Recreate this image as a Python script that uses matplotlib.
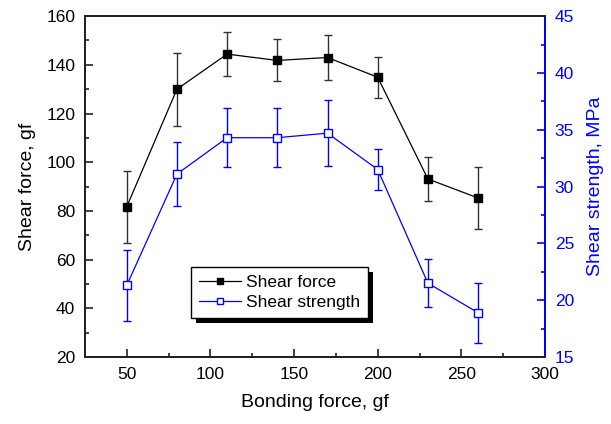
"""
Shear force and shear strength versus bonding force
"""

import matplotlib.pyplot as plt
from matplotlib.lines import Line2D
from matplotlib.patches import Rectangle
from matplotlib.ticker import MultipleLocator

plt.rcParams['font.family'] = ['Liberation Sans', 'DejaVu Sans']

bonding_force = [50, 80, 110, 140, 170, 200, 230, 260]
shear_force = [81.7, 130.0, 144.4, 141.8, 143.0, 134.9, 93.1, 85.3]
shear_force_err = [14.7, 15.0, 9.1, 8.6, 9.3, 8.4, 8.9, 12.6]
shear_strength = [21.3, 31.1, 34.3, 34.3, 34.7, 31.5, 21.5, 18.9]
shear_strength_err = [3.1, 2.85, 2.6, 2.6, 2.9, 1.8, 2.1, 2.65]

fig = plt.figure(figsize=(6.11, 4.24), dpi=100)
ax = fig.add_axes([0.139, 0.158, 0.753, 0.804])
ax2 = ax.twinx()

# Shear force (left axis)
ax.errorbar(bonding_force, shear_force, yerr=shear_force_err,
            color='black', ecolor='#333333', elinewidth=1, capsize=3,
            lw=0.9, marker='s', ms=6, mfc='black', mec='black')

# Shear strength (right axis)
ax2.errorbar(bonding_force, shear_strength, yerr=shear_strength_err,
             color='blue', ecolor='blue', elinewidth=1, capsize=3,
             lw=0.9, marker='s', ms=5.5, mfc='white', mec='blue', mew=1)

ax.set_xlim(25, 300)
ax.set_ylim(20, 160)
ax2.set_ylim(15, 45)

ax.xaxis.set_major_locator(MultipleLocator(50))
ax.xaxis.set_minor_locator(MultipleLocator(25))
ax.yaxis.set_major_locator(MultipleLocator(20))
ax.yaxis.set_minor_locator(MultipleLocator(10))
ax2.yaxis.set_major_locator(MultipleLocator(5))
ax2.yaxis.set_minor_locator(MultipleLocator(2.5))

for a in (ax, ax2):
    for s in a.spines.values():
        s.set_linewidth(1.4)
        s.set_color('#222222')
ax2.spines['right'].set_color('blue')

ax.tick_params(which='both', direction='in', labelsize=12.5, top=False,
               width=1.2, color='#222222', pad=7)
ax.tick_params(which='major', length=6)
ax.tick_params(which='minor', length=3)
ax2.tick_params(which='both', direction='in', labelsize=12.5, width=1.2,
                color='blue', labelcolor='blue', pad=7)
ax2.tick_params(which='major', length=6)
ax2.tick_params(which='minor', length=3)

ax.set_xlabel('Bonding force, gf', fontsize=14, labelpad=9)
ax.set_ylabel('Shear force, gf', fontsize=14, labelpad=7)
ax2.set_ylabel('Shear strength, MPa', fontsize=14, color='blue', labelpad=9)

# Legend with a solid black drop shadow
handles = [Line2D([], [], color='black', lw=0.9, marker='s', ms=5,
                  mfc='black', mec='black'),
           Line2D([], [], color='blue', lw=0.9, marker='s', ms=4.5,
                  mfc='white', mec='blue')]
leg = ax2.legend(handles, ['Shear force', 'Shear strength'],
                 loc='lower left', bbox_to_anchor=(0.231, 0.114),
                 borderaxespad=0, fontsize=12.5, frameon=True,
                 fancybox=False, edgecolor='black', framealpha=1,
                 handlelength=2.4, borderpad=0.45, labelspacing=0.3,
                 handletextpad=0.3)
leg.get_frame().set_linewidth(1)
leg.set_zorder(10)

fig.canvas.draw()
bb = leg.get_window_extent()
ax2.add_patch(Rectangle((bb.x0 + 5, bb.y0 - 5), bb.width, bb.height,
                        transform=None, facecolor='black', edgecolor='none',
                        zorder=9, clip_on=False))

fig.savefig('out.png', dpi=100)
